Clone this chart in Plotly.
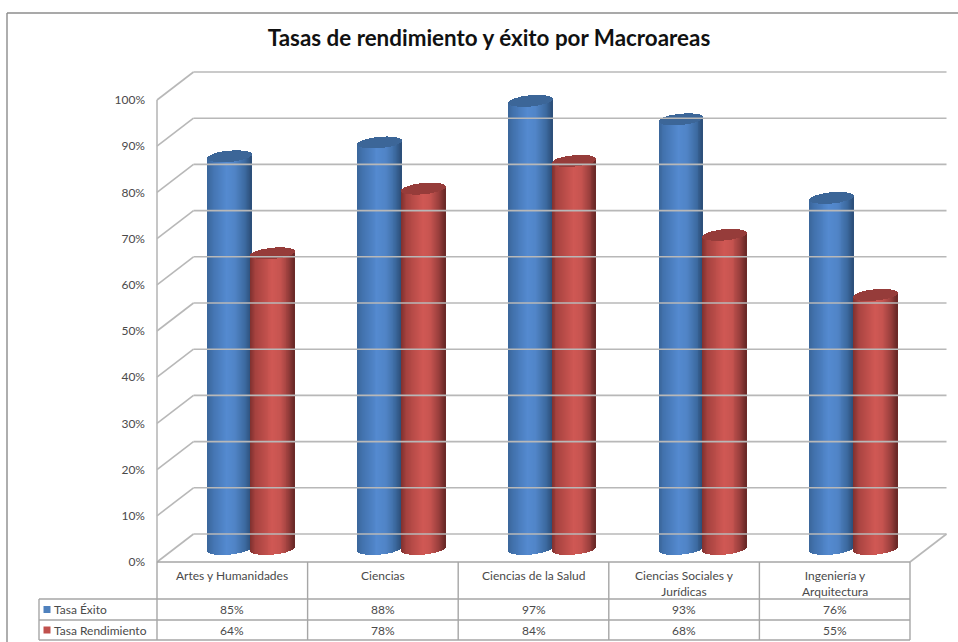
import math
import plotly.graph_objects as go

categories = ["Artes y Humanidades", "Ciencias", "Ciencias de la Salud",
              "Ciencias Sociales y<br>Jurídicas", "Ingeniería y<br>Arquitectura"]
tasa_exito = [85, 88, 97, 93, 76]
tasa_rendimiento = [64, 78, 84, 68, 55]
y_ticks = list(range(0, 101, 10))
title = "Tasas de rendimiento y éxito por Macroareas"

W, H = 958, 642
X0, X5 = 157, 910          # front edge of the category axis, px
Y0, Y100 = 562, 100        # front wall 0 % and 100 %, px
PX_X = (X5 - X0) / 5
PX_Y = (Y0 - Y100) / 100
DX = 36.5 / PX_X           # depth offset of the back wall
DY = 28 / PX_Y
BAR_W = 43.6 / PX_X
BASE = 13 / PX_Y           # cylinder base centre above the front 0 % line
SEMI = 5.6 / PX_Y          # ellipse half height
TILT = 2.0 / PX_Y          # ellipse slant
SLICES = 46

BLUE_STOPS = [(0, (58, 102, 154)), (.12, (66, 114, 174)), (.45, (84, 138, 208)),
              (.65, (80, 132, 198)), (.87, (60, 106, 160)), (1, (44, 78, 120))]
RED_STOPS = [(0, (126, 48, 46)), (.12, (166, 66, 63)), (.5, (208, 88, 84)),
             (.68, (198, 84, 80)), (.87, (152, 62, 60)), (1, (104, 40, 38))]
BLUE_TOP = "rgb(60,102,152)"
RED_TOP = "rgb(150,60,58)"
LINE = "#b8b8b8"
TEXT = "#4a4a4a"


def shade(stops, t):
    for (a, ca), (b, cb) in zip(stops, stops[1:]):
        if t <= b:
            f = (t - a) / (b - a)
            c = [round(p + (q - p) * f) for p, q in zip(ca, cb)]
            return f"rgb({c[0]},{c[1]},{c[2]})"
    return f"rgb{stops[-1][1]}"


def cylinder(cat, side, value, stops, top):
    """Two bar traces: the shaded body and the darker top ellipse."""
    centre = cat + .5 + (DX + 1 / PX_X) / 2 + side * BAR_W / 2
    xs, bases, heights, cap_lo, cap_h, colors = [], [], [], [], [], []
    step = BAR_W / SLICES
    for i in range(SLICES):
        t = -1 + (2 * i + 1) / SLICES
        arc = SEMI * math.sqrt(1 - t * t)
        xs.append(centre + t * BAR_W / 2)
        bases.append(BASE + TILT * t - arc)
        heights.append(value)
        cap_lo.append(value + BASE + TILT * t - arc)
        cap_h.append(2 * arc)
        colors.append(shade(stops, (t + 1) / 2))
    body = go.Bar(x=xs, y=heights, base=bases,
                  width=step * 1.2, marker=dict(color=colors, line=dict(width=0)),
                  hoverinfo="skip", showlegend=False)
    cap = go.Bar(x=xs, y=cap_h, base=cap_lo, width=step * 1.2,
                 marker=dict(color=top, line=dict(width=0)),
                 hoverinfo="skip", showlegend=False)
    return [body, cap]


def segs(pairs):
    xs, ys = [], []
    for (a, b), (c, d) in pairs:
        xs += [a, c, None]
        ys += [b, d, None]
    return xs, ys


fig = go.Figure()

# walls and floor
grid = []
for v in y_ticks:
    grid.append(((0, v), (DX, v + DY)))
    grid.append(((DX, v + DY), (5 + DX, v + DY)))
grid.append(((0, 0), (0, 100)))
grid.append(((5, 0), (5 + DX, DY)))
gx, gy = segs(grid)
fig.add_trace(go.Scatter(x=gx, y=gy, mode="lines", hoverinfo="skip", showlegend=False,
                         line=dict(color=LINE, width=1.6)))

# cylinders
for i in range(len(categories)):
    for tr in cylinder(i, -1, tasa_exito[i], BLUE_STOPS, BLUE_TOP):
        fig.add_trace(tr)
    for tr in cylinder(i, 1, tasa_rendimiento[i], RED_STOPS, RED_TOP):
        fig.add_trace(tr)

# data table
ROW1, ROW2, ROW3 = -37 / PX_Y, -58 / PX_Y, -78 / PX_Y
LEFT = (39 - X0) / PX_X
table = [((0, 0), (5, 0))]
for c in range(6):
    table.append(((c, 0), (c, ROW3)))
for r in (ROW1, ROW2, ROW3):
    table.append(((LEFT, r), (5, r)))
table.append(((LEFT, ROW1), (LEFT, ROW3)))
tx, ty = segs(table)
fig.add_trace(go.Scatter(x=tx, y=ty, mode="lines", hoverinfo="skip", showlegend=False,
                         line=dict(color="#a6a6a6", width=1.4)))

# legend keys in the table
KEY_X = (47 - X0) / PX_X
fig.add_trace(go.Scatter(x=[KEY_X, KEY_X], y=[(ROW1 + ROW2) / 2, (ROW2 + ROW3) / 2],
                         mode="markers", hoverinfo="skip", showlegend=False,
                         marker=dict(symbol="square", size=7, color=["#4f81bd", "#c0504d"])))


def label(x, y, text, anchor="center", size=12):
    fig.add_annotation(x=x, y=y, text=text, showarrow=False, xanchor=anchor, yanchor="middle",
                       font=dict(family="Lato", size=size, color=TEXT), align="center")


for i, name in enumerate(categories):
    label(i + .5, -21 / PX_Y if "<br>" in name else -13 / PX_Y, name)
    label(i + .5, (ROW1 + ROW2) / 2, f"{tasa_exito[i]}%")
    label(i + .5, (ROW2 + ROW3) / 2, f"{tasa_rendimiento[i]}%")
label((52 - X0) / PX_X, (ROW1 + ROW2) / 2, "Tasa Éxito", "left")
label((52 - X0) / PX_X, (ROW2 + ROW3) / 2, "Tasa Rendimiento", "left")

# chart frame
fx, fy = segs([(((7 - X0) / PX_X, (Y0 - 13) / PX_Y), ((W - X0) / PX_X, (Y0 - 13) / PX_Y)),
               (((7 - X0) / PX_X, (Y0 - 13) / PX_Y), ((7 - X0) / PX_X, (Y0 - H) / PX_Y))])
fig.add_trace(go.Scatter(x=fx, y=fy, mode="lines", hoverinfo="skip", showlegend=False,
                         line=dict(color="#8c8c8c", width=1.4)))

fig.update_layout(
    width=W, height=H, autosize=False,
    margin=dict(l=0, r=0, t=0, b=0),
    paper_bgcolor="white", plot_bgcolor="white",
    barmode="overlay", bargap=0,
    title=dict(text=f"<b>{title}</b>", x=489 / W, y=1 - 38 / H, xanchor="center", yanchor="middle",
               font=dict(family="Lato", size=22.4, color="#111111")),
    xaxis=dict(domain=[0, 1], range=[-X0 / PX_X, (W - X0) / PX_X], visible=False, fixedrange=True),
    yaxis=dict(domain=[0, 1], range=[(Y0 - H) / PX_Y, Y0 / PX_Y], anchor="free",
               position=X0 / W, tickmode="array", tickvals=y_ticks,
               ticktext=[f"{v}%" for v in y_ticks], showgrid=False, zeroline=False,
               showline=False, ticks="", ticklabelstandoff=12, fixedrange=True,
               tickfont=dict(family="Lato", size=12, color=TEXT)),
)

fig.write_html("out.html", config=dict(displayModeBar=False),
               post_script="document.body.style.margin='0';document.body.style.overflow='hidden';")
